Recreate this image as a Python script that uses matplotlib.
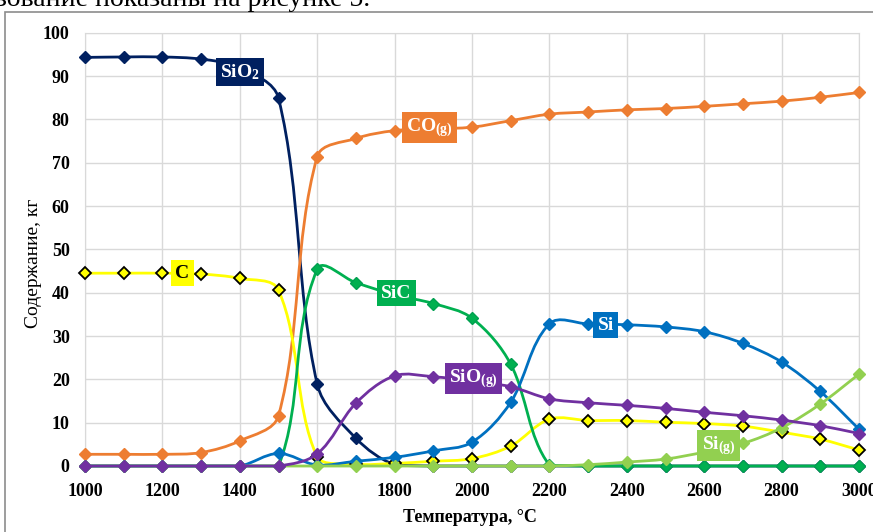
import matplotlib
matplotlib.use("Agg")
import matplotlib.pyplot as plt
import numpy as np
from matplotlib.path import Path
from matplotlib.patches import PathPatch, Rectangle

plt.rcParams['font.family'] = ['Liberation Serif', 'DejaVu Serif']
plt.rcParams['font.weight'] = 'bold'
plt.rcParams['mathtext.fontset'] = 'custom'
plt.rcParams['mathtext.rm'] = 'Liberation Serif:bold'
plt.rcParams['mathtext.it'] = 'Liberation Serif:bold'
plt.rcParams['mathtext.bf'] = 'Liberation Serif:bold'

# Temperature, °C
temps = np.arange(1000, 3001, 100)

sio2 = [94.3, 94.4, 94.4, 93.9, 92.0, 84.9, 18.9, 6.4, 0.3, 0, 0,
        0, 0, 0, 0, 0, 0, 0, 0, 0, 0]
co_g = [2.7, 2.7, 2.7, 3.1, 5.8, 11.6, 71.4, 75.6, 77.4, 77.8, 78.2,
        79.7, 81.2, 81.7, 82.2, 82.5, 83.0, 83.6, 84.2, 85.1, 86.2]
c = [44.5, 44.5, 44.5, 44.3, 43.3, 40.6, 2.0, 0.4, 0.6, 1.1, 1.7,
     4.6, 10.8, 10.5, 10.5, 10.1, 9.8, 9.2, 7.8, 6.2, 3.7]
sic = [0, 0, 0, 0, 0, 0, 45.4, 42.3, 39.5, 37.5, 34.1,
       23.5, 0.2, 0, 0, 0, 0, 0, 0, 0, 0]
si = [0, 0, 0, 0, 0, 2.9, 0.2, 1.1, 2.0, 3.5, 5.5,
      14.7, 32.8, 32.8, 32.6, 32.1, 31.0, 28.3, 24.0, 17.2, 8.5]
si_g = [0, 0, 0, 0, 0, 0, 0, 0, 0, 0, 0,
        0, 0, 0.3, 0.9, 1.6, 3.2, 5.2, 8.8, 14.3, 21.2]
sio_g = [0, 0, 0, 0, 0, 0, 2.8, 14.5, 20.8, 20.6, 19.6,
         18.3, 15.5, 14.6, 14.0, 13.3, 12.4, 11.6, 10.6, 9.3, 7.5]


def smooth_path(ax, x, y, k=1 / 3):
    # smoothed line: Bezier segments with tangents along the neighbour chord,
    # scaled by the segment length in screen space; never dips below zero
    to_px = ax.transData
    pts = to_px.transform(np.column_stack([x, y]).astype(float))
    floor = to_px.transform((x[0], 0))[1]
    n = len(pts)

    def unit(v):
        d = np.hypot(*v)
        return v / d if d > 0 else v

    verts = [pts[0]]
    codes = [Path.MOVETO]
    for i in range(n - 1):
        p0 = pts[max(i - 1, 0)]
        p1 = pts[i]
        p2 = pts[i + 1]
        p3 = pts[min(i + 2, n - 1)]
        seg = np.hypot(*(p2 - p1))
        c1 = p1 + unit(p2 - p0) * seg * k
        c2 = p2 - unit(p3 - p1) * seg * k
        c1[1] = max(c1[1], floor)
        c2[1] = max(c2[1], floor)
        verts += [c1, c2, p2]
        codes += [Path.CURVE4] * 3
    verts = to_px.inverted().transform(np.array(verts))
    return Path(verts, codes)


fig = plt.figure(figsize=(8.73, 5.32), dpi=100)
ax = fig.add_axes([85 / 873, 1 - 466 / 532, (859 - 85) / 873, (466 - 32.7) / 532])
ax.set_xlim(1000, 3000)
ax.set_ylim(0, 100)

series = [
    (sio2, '#002060', '#002060', '#002060'),
    (co_g, '#ED7D31', '#ED7D31', '#ED7D31'),
    (c, '#FFFF00', '#FFFF00', '#000000'),
    (sic, '#00B050', '#00B050', '#00A050'),
    (si, '#0070C0', '#0070C0', '#0070C0'),
    (si_g, '#92D050', '#92D050', '#92D050'),
    (sio_g, '#7030A0', '#7030A0', '#7030A0'),
]

for z, (vals, lc, fc, ec) in enumerate(series):
    patch = PathPatch(smooth_path(ax, temps, vals), fill=False, edgecolor=lc,
                      lw=2, zorder=3 + z, clip_on=False)
    ax.add_patch(patch)
    ax.plot(temps, vals, ls='none', marker='D', ms=6, mfc=fc, mec=ec,
            mew=1.3 if ec == '#000000' else 1, zorder=3 + z, clip_on=False)

ax.set_xticks(np.arange(1000, 3001, 200))
ax.set_yticks(np.arange(0, 101, 10))
ax.grid(True, color='#D9D9D9', lw=1)
ax.set_axisbelow(True)
for s in ax.spines.values():
    s.set_color('#D9D9D9')
ax.tick_params(length=0, labelsize=13)
ax.tick_params(axis='y', pad=11)
ax.tick_params(axis='x', pad=12)
for lab in ax.get_xticklabels() + ax.get_yticklabels():
    lab.set_fontweight('bold')

ax.set_xlabel('Температура, °C', fontsize=13, fontweight='bold')
ax.xaxis.set_label_coords(0.497, -0.118)
ax.xaxis.label.set_va('center')
ax.set_ylabel('Содержание, кг', fontsize=14, fontweight='normal')
ax.yaxis.set_label_coords(-0.066, 0.468)
ax.yaxis.label.set_va('center')

# series labels
labels = [
    (1400, 90.9, r'SiO$_{2}$', '#002060', 'white'),
    (1891, 78.1, r'CO$_{(g)}$', '#ED7D31', 'white'),
    (1252, 44.5, 'C', '#FFFF00', 'black'),
    (1804, 39.9, 'SiC', '#00B050', 'white'),
    (2346, 32.5, 'Si', '#0070C0', 'white'),
    (2004, 20.2, r'SiO$_{(g)}$', '#7030A0', 'white'),
    (2637, 4.7, r'Si$_{(g)}$', '#92D050', 'white'),
]
for x, y, txt, bg, fg in labels:
    ax.text(x, y, txt, ha='center', va='center', fontsize=14,
            fontweight='bold', color=fg, zorder=20,
            bbox=dict(boxstyle='square,pad=0.22', fc=bg, ec='none'))

# chart frame and the line of body text above it
fig.patches.append(Rectangle((5 / 873, -0.2), 1.2, 1.2 - 12 / 532,
                             transform=fig.transFigure, fill=False,
                             edgecolor='#8C8C8C', lw=1.2))
fig.text(-0.005, 1 - 6 / 532, 'зование показаны на рисунке 5.', fontsize=20,
         fontweight='normal', ha='left', va='baseline')

fig.savefig('out.png', dpi=100)
